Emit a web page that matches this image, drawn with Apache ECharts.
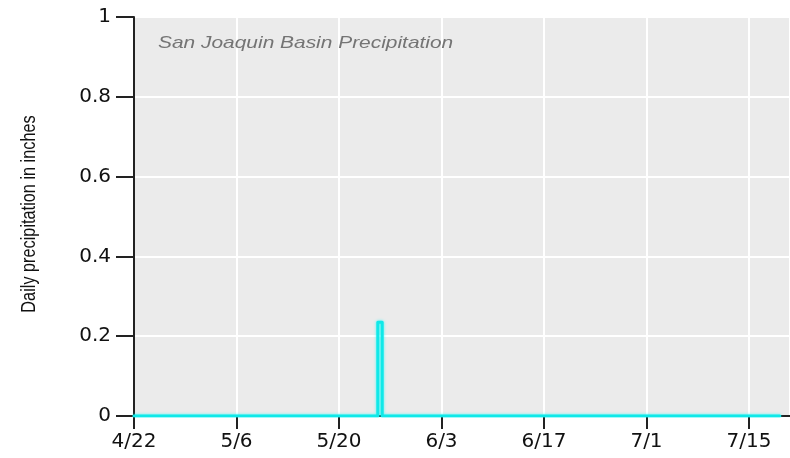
<!DOCTYPE html>
<html><head><meta charset="utf-8">
<script src="https://cdn.jsdelivr.net/npm/echarts@6/dist/echarts.min.js"></script>
<style>html,body{margin:0;padding:0;background:#fff}#c{width:790px;height:458px}</style>
</head><body><div id="c"></div>
<script>
// day offsets from 4/22 and daily precipitation (inches)
var dayOffsets = [0, 33.3, 33.3, 33.9, 33.9, 88.2];
var precip     = [0, 0,    0.235, 0.235, 0,   0];
var tickLabels = ['4/22','5/6','5/20','6/3','6/17','7/1','7/15'];
var titleText = 'San Joaquin Basin Precipitation';
var yName = 'Daily precipitation in inches';

var data = dayOffsets.map(function(d,i){return [d, precip[i]];});
var chart = echarts.init(document.getElementById('c'));
chart.setOption({
  animation:false,
  backgroundColor:'#fff',
  graphic:[
    {type:'text',x:158,y:43,scaleX:1.23,z:10,
     style:{text:titleText,font:'italic 17px "Liberation Sans"',fill:'#747474',textAlign:'left',textVerticalAlign:'middle'}},
    {type:'text',x:29,y:214,rotation:Math.PI/2,scaleY:1.25,
     style:{text:yName,font:'16.3px "Liberation Sans"',fill:'#111',textAlign:'center',textVerticalAlign:'middle'}}
  ],
  grid:{left:134,top:17,right:0,bottom:42,show:true,backgroundColor:'#EBEBEB',borderWidth:0},
  xAxis:{type:'value',min:0,max:89.6,interval:14,
    axisLine:{show:true,onZero:false,lineStyle:{color:'#222',width:2}},
    axisTick:{show:true,length:13,lineStyle:{color:'#222',width:2}},
    axisLabel:{margin:16,fontFamily:'DejaVu Sans',fontSize:20,color:'#111',showMaxLabel:false,
      formatter:function(v){var i=Math.round(v/14);return tickLabels[i]||'';}},
    splitLine:{show:true,lineStyle:{color:'#fff',width:2}}
  },
  yAxis:{type:'value',min:0,max:1,interval:0.2,
    axisLine:{show:true,lineStyle:{color:'#222',width:2}},
    axisTick:{show:true,length:18,lineStyle:{color:'#222',width:2}},
    axisLabel:{margin:23,fontFamily:'DejaVu Sans',fontSize:20,color:'#111',
      formatter:function(v){return v===0?'0':(v===1?'1':String(+v.toFixed(1)));}},
    splitLine:{show:true,lineStyle:{color:'#fff',width:2}}
  },
  series:[{type:'line',data:data,showSymbol:false,symbol:'none',
    lineStyle:{color:'#10E8E8',width:3,cap:'round',join:'round',shadowColor:'rgba(0,255,255,0.7)',shadowBlur:3}
  }]
});
</script></body></html>
